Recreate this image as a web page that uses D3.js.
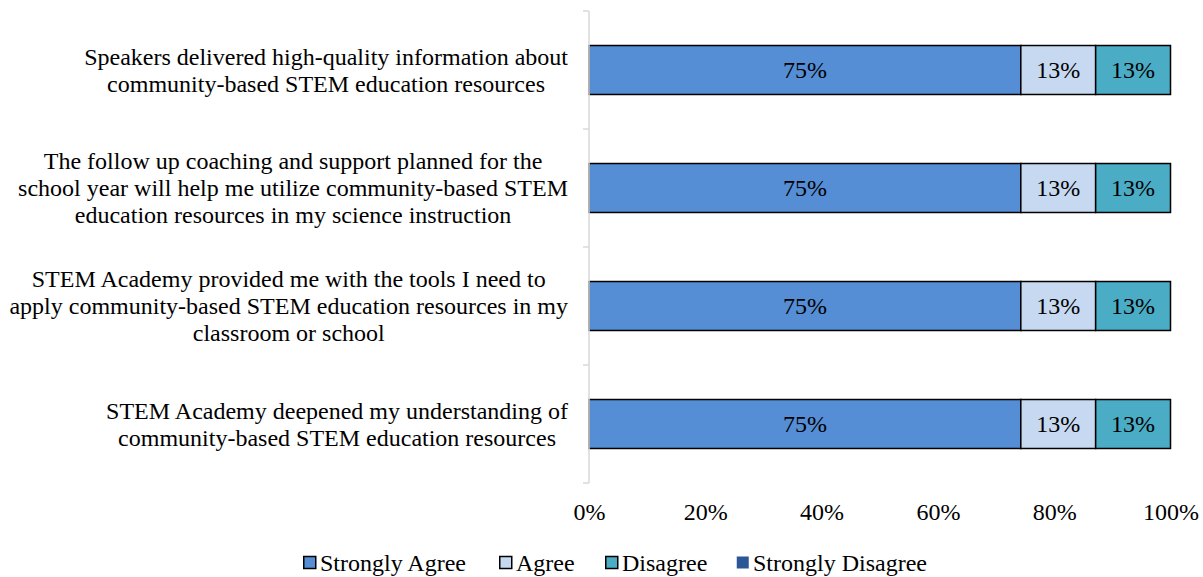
<!DOCTYPE html>
<html>
<head>
<meta charset="utf-8">
<script src="https://cdn.jsdelivr.net/npm/d3@7"></script>
<style>
  html, body { margin: 0; padding: 0; background: #fff; }
  svg { display: block; }
  svg text { font-family: "Liberation Serif", "Times New Roman", serif; }
</style>
</head>
<body>
<svg id="chart" width="1203" height="577"></svg>
<script>
// Survey statements (top to bottom)
const statements = [
  ["Speakers delivered high-quality information about", "community-based STEM education resources"],
  ["The follow up coaching and support planned for the", "school year will help me utilize community-based STEM", "education resources in my science instruction"],
  ["STEM Academy provided me with the tools I need to", "apply community-based STEM education resources in my", "classroom or school"],
  ["STEM Academy deepened my understanding of", "community-based STEM education resources"]
];
const responses = ["Strongly Agree", "Agree", "Disagree", "Strongly Disagree"];
const stronglyAgree = [75, 75, 75, 75];
const agree = [13, 13, 13, 13];
const disagree = [13, 13, 13, 13];
const stronglyDisagree = [0, 0, 0, 0];
const xTicks = [0, 0.2, 0.4, 0.6, 0.8, 1.0];
const colors = ["#558ED5", "#C6D9F1", "#4BACC6", "#2B5797"];

const FONT = "'Liberation Serif', 'Times New Roman', serif";
const FS = "24px";

const seriesValues = [stronglyAgree, agree, disagree, stronglyDisagree];
const rows = statements.map((s, i) => {
  const r = { id: i };
  responses.forEach((k, j) => r[k] = seriesValues[j][i]);
  return r;
});

const svg = d3.select("#chart");
const plot = { left: 589, right: 1170.5, top: 11, bottom: 483 };

const x = d3.scaleLinear().domain([0, 1]).range([plot.left, plot.right]);
const y = d3.scaleBand().domain(rows.map(r => r.id)).range([plot.top, plot.bottom])
  .paddingInner(0.585).paddingOuter(0.2925);
const yOuter = d3.scaleBand().domain(rows.map(r => r.id)).range([plot.top, plot.bottom]);

// 100% stacked layout
const stacked = d3.stack().keys(responses).offset(d3.stackOffsetExpand)(rows);
const color = d3.scaleOrdinal().domain(responses).range(colors);

const layers = svg.append("g").selectAll("g").data(stacked).join("g")
  .attr("fill", d => color(d.key));

layers.selectAll("rect").data(d => d.map(v => Object.assign(v, { key: d.key }))).join("rect")
  .filter(d => d.data[d.key] > 0)
  .attr("x", d => x(d[0]))
  .attr("y", d => y(d.data.id))
  .attr("width", d => x(d[1]) - x(d[0]))
  .attr("height", y.bandwidth())
  .attr("stroke", "#000")
  .attr("stroke-width", 1.5);

// Data labels
layers.selectAll("text").data(d => d.filter(v => v.data[d.key] > 0)).join("text")
  .attr("x", d => (x(d[0]) + x(d[1])) / 2)
  .attr("y", d => y(d.data.id) + y.bandwidth() / 2)
  .attr("dy", "0.35em")
  .attr("text-anchor", "middle")
  .attr("fill", "#000")
  .style("font-family", FONT)
  .style("font-size", FS)
  .text(d => d.data[d.key] + "%");

// Category axis (vertical line with ticks between categories)
const axisG = svg.append("g");
axisG.append("line")
  .attr("x1", plot.left).attr("x2", plot.left)
  .attr("y1", plot.top).attr("y2", plot.bottom)
  .attr("stroke", "#D9D9D9").attr("stroke-width", 1.5);
const boundaries = rows.map(r => yOuter(r.id)).concat([plot.bottom]);
axisG.selectAll("line.tick").data(boundaries).join("line")
  .attr("class", "tick")
  .attr("x1", plot.left - 6).attr("x2", plot.left)
  .attr("y1", d => d).attr("y2", d => d)
  .attr("stroke", "#D9D9D9").attr("stroke-width", 1.5);

// Category labels: multi-line blocks, right-aligned box, lines centered
const labelRight = 568;
const lineH = 27;
rows.forEach((r, i) => {
  const lines = statements[i];
  const g = svg.append("g");
  const texts = g.selectAll("text").data(lines).join("text")
    .style("font-family", FONT)
    .style("font-size", FS)
    .attr("fill", "#000")
    .attr("text-anchor", "middle")
    .text(d => d);
  const maxW = d3.max(texts.nodes(), n => n.getComputedTextLength());
  const cx = labelRight - maxW / 2;
  const cy = y(r.id) + y.bandwidth() / 2;
  texts.attr("x", cx)
    .attr("y", (d, k) => cy + (k - (lines.length - 1) / 2) * lineH)
    .attr("dy", "0.35em");
});

// Value axis tick labels
const xAxis = d3.axisBottom(x).tickValues(xTicks).tickFormat(d3.format(".0%")).tickSize(0).tickPadding(0);
const xg = svg.append("g").attr("transform", `translate(0, 503)`).call(xAxis);
xg.select(".domain").remove();
xg.selectAll("text").style("font-size", FS).attr("fill", "#000")
  .style("font-family", FONT);

// Legend
const legendItems = [
  { key: "Strongly Agree", x: 303, stroke: true },
  { key: "Agree", x: 499, stroke: true },
  { key: "Disagree", x: 605, stroke: true },
  { key: "Strongly Disagree", x: 736, stroke: false }
];
const lg = svg.append("g");
const li = lg.selectAll("g").data(legendItems).join("g")
  .attr("transform", d => `translate(${d.x}, 563)`);
li.append("rect")
  .attr("x", 0.75).attr("y", -6.5).attr("width", 12).attr("height", 12)
  .attr("fill", d => color(d.key))
  .attr("stroke", d => d.stroke ? "#000" : "none")
  .attr("stroke-width", 1.5);
li.append("text")
  .attr("x", 17).attr("dy", "0.35em")
  .style("font-family", FONT)
  .style("font-size", FS).attr("fill", "#000")
  .text(d => d.key);
</script>
</body>
</html>
